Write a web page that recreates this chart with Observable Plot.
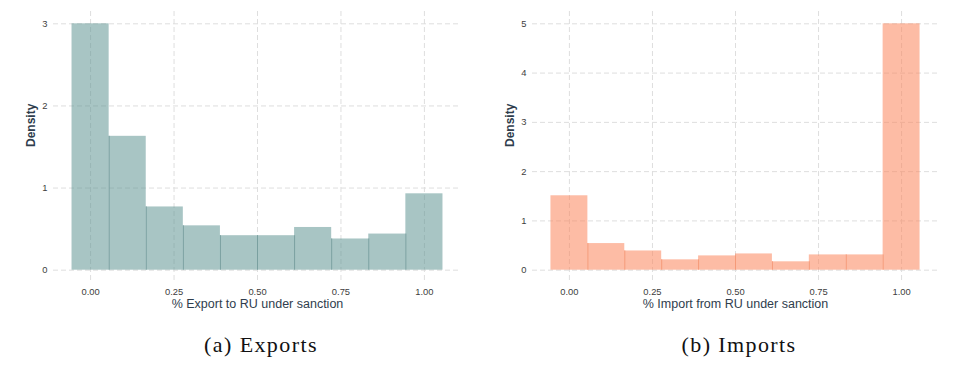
<!DOCTYPE html>
<html>
<head>
<meta charset="utf-8">
<script src="https://cdn.jsdelivr.net/npm/d3@7"></script>
<script src="https://cdn.jsdelivr.net/npm/@observablehq/plot@0.6"></script>
<style>
  html, body { margin: 0; padding: 0; background: #fff; }
  #wrap { position: relative; width: 959px; height: 382px; overflow: hidden; }
  .panel { position: absolute; top: 0; }
  .cap { position: absolute; top: 332px; height: 26px; line-height: 26px; text-align: center;
         font-family: "Liberation Serif", "DejaVu Serif", serif; font-size: 22px; color: #111; letter-spacing: 1.4px; white-space: nowrap; }
</style>
</head>
<body>
<div id="wrap">
  <div class="panel" id="left" style="left:0px"></div>
  <div class="panel" id="right" style="left:480px"></div>
  <div class="cap" id="capA" style="left:0px; width:522px">(a) Exports</div>
  <div class="cap" id="capB" style="left:480px; width:518px">(b) Imports</div>
</div>
<script>
// bin edges (10 bins of width 1/9, centred on 0 ... 1)
const binEdges = [-0.0556, 0.0556, 0.1667, 0.2778, 0.3889, 0.5, 0.6111, 0.7222, 0.8333, 0.9444, 1.0556];
// densities
const exportDensity = [3.00, 1.63, 0.77, 0.54, 0.42, 0.42, 0.52, 0.38, 0.44, 0.93];
const importDensity = [1.51, 0.54, 0.39, 0.21, 0.29, 0.33, 0.17, 0.31, 0.31, 5.00];
const xTicks = [0, 0.25, 0.5, 0.75, 1];
const exportYTicks = [0, 1, 2, 3];
const importYTicks = [0, 1, 2, 3, 4, 5];
const exportTitle = "% Export to RU under sanction";
const importTitle = "% Import from RU under sanction";
const yTitle = "Density";

function histogram({values, yTicks, yMax, xTitle, fill, edge, width, marginLeft, marginRight}) {
  const bins = values.map((v, i) => ({x1: binEdges[i], x2: binEdges[i + 1], y: v}));
  const inner = [];
  for (let i = 1; i < values.length; i++) {
    inner.push({x: binEdges[i], y: Math.min(values[i - 1], values[i])});
  }
  const pad = yMax * 0.05;
  const grid = {stroke: "#dedede", strokeOpacity: 1, strokeWidth: 1, strokeDasharray: "5,3"};
  return Plot.plot({
    width, height: 318,
    marginLeft, marginRight, marginTop: 11, marginBottom: 36,
    style: {fontFamily: "'Liberation Sans', Arial, sans-serif", fontSize: "9.4px", color: "#3d3d3d", background: "#fff"},
    x: {domain: [-1/9, 1 + 1/9]},
    y: {domain: [-pad, yMax + pad]},
    marks: [
      Plot.gridX(xTicks, grid),
      Plot.gridY(yTicks, grid),
      Plot.rectY(bins, {x1: "x1", x2: "x2", y1: 0, y2: "y", fill, fillOpacity: 0.55}),
      Plot.ruleX(inner, {x: "x", y1: 0, y2: "y", stroke: edge, strokeWidth: 1}),
      Plot.axisX(xTicks, {tickSize: 0, tickPadding: 6, tickFormat: d3.format(".2f"), label: null}),
      Plot.axisY(yTicks, {tickSize: 0, tickPadding: 6, tickFormat: d3.format("d"), label: null}),
      Plot.text([xTitle], {frameAnchor: "bottom", dy: 25, fontSize: 12.5, fill: "#2f3d4d"}),
      Plot.text([yTitle], {frameAnchor: "left", dx: -22, rotate: -90, fontSize: 12, fontWeight: "bold", fill: "#2f3d4d"})
    ]
  });
}

document.getElementById("left").append(histogram({
  values: exportDensity, yTicks: exportYTicks, yMax: 3, xTitle: exportTitle,
  fill: "#619694", edge: "#7aa0a0", width: 480, marginLeft: 53, marginRight: 19
}));
document.getElementById("right").append(histogram({
  values: importDensity, yTicks: importYTicks, yMax: 5, xTitle: importTitle,
  fill: "#fb855b", edge: "#f59a78", width: 479, marginLeft: 52, marginRight: 21
}));
</script>
</body>
</html>
